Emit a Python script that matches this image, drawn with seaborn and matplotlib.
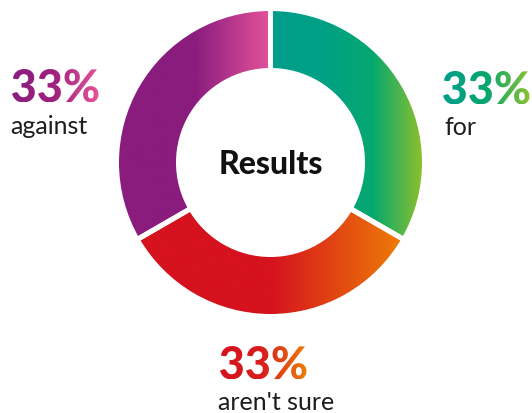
import numpy as np
import matplotlib
matplotlib.use("Agg")
import matplotlib.pyplot as plt
import seaborn as sns
from matplotlib.textpath import TextPath
from matplotlib.font_manager import FontProperties
from matplotlib.patches import PathPatch
from matplotlib.path import Path

# Survey results
categories = ["for", "aren't sure", "against"]
shares = [33, 33, 33]
share_labels = ["33%", "33%", "33%"]
center_title = "Results"

# Gradient stops for each answer (left -> right)
gradients = {
    "for": ["#009e8c", "#00a086", "#05a86e", "#93c22a"],
    "aren't sure": ["#d5121e", "#d5121e", "#ef7d06"],
    "against": ["#8a1c7e", "#8a1c7e", "#e6539a"],
}
text_gradients = {
    "for": ["#009e8c", "#05a66e", "#8cc230"],
    "aren't sure": ["#d5121e", "#d8201e", "#ef7d06"],
    "against": ["#8a1c7e", "#a0237f", "#e6539a"],
}

sns.set_theme(style="white")
plt.rcParams["font.family"] = ["Lato", "DejaVu Sans"]

W_PX, H_PX = 532, 414
fig = plt.figure(figsize=(W_PX / 100, H_PX / 100), dpi=100)
ax = fig.add_axes([0, 0, 1, 1])


def Y(top):
    """Convert a top-based pixel row to data y."""
    return H_PX - top


cx, cy = 270.5, Y(163.5)
outer_r, ring_w = 154, 62

wedges, _ = ax.pie(
    shares,
    center=(cx, cy),
    radius=outer_r,
    startangle=90,
    counterclock=False,
    wedgeprops=dict(width=ring_w, linewidth=3.6, edgecolor="white"),
)

for wedge, cat in zip(wedges, categories):
    ext = wedge.get_path().get_extents()
    cmap = sns.blend_palette(gradients[cat], n_colors=256, as_cmap=True)
    grad = np.linspace(0, 1, 256)[None, :]
    im = ax.imshow(grad, cmap=cmap, extent=(ext.x0, ext.x1, ext.y0, ext.y1),
                   aspect="auto", interpolation="bilinear", zorder=2)
    im.set_clip_path(wedge)
    wedge.set_facecolor("none")
    wedge.set_zorder(3)


heavy = FontProperties(family="Lato", weight="black")


def gradient_text(s, left, top, size, colors):
    tp = TextPath((0, 0), s, size=size, prop=heavy)
    e = tp.get_extents()
    dx, dy = left - e.x0, Y(top) - e.y1
    path = Path(tp.vertices + np.array([dx, dy]), tp.codes)
    patch = PathPatch(path, facecolor="none", linewidth=0, transform=ax.transData)
    ax.add_patch(patch)
    cmap = sns.blend_palette(colors, n_colors=256, as_cmap=True)
    grad = np.linspace(0, 1, 256)[None, :]
    im = ax.imshow(grad, cmap=cmap,
                   extent=(e.x0 + dx, e.x1 + dx, e.y0 + dy, e.y1 + dy),
                   aspect="auto", interpolation="bilinear", zorder=4)
    im.set_clip_path(patch)


# Share labels and answer names
label_pos = {
    "for": (443, 72, 444, 135),
    "aren't sure": (220, 347, 218, 410),
    "against": (12, 70, 10, 134),
}
for cat, pct in zip(categories, share_labels):
    px, ptop, lx, lbase = label_pos[cat]
    gradient_text(pct, px, ptop, 45, text_gradients[cat])
    ax.text(lx, Y(lbase), cat, fontsize=18, color="#1d1d1b",
            ha="left", va="baseline", family=["Lato", "DejaVu Sans"])

ax.text(cx, Y(165), center_title, fontsize=23, fontweight="black",
        color="#111111", ha="center", va="center",
        family=["Lato", "DejaVu Sans"])

ax.set_xlim(0, W_PX)
ax.set_ylim(0, H_PX)
ax.set_axis_off()

fig.savefig("out.png", dpi=100, facecolor="white")
